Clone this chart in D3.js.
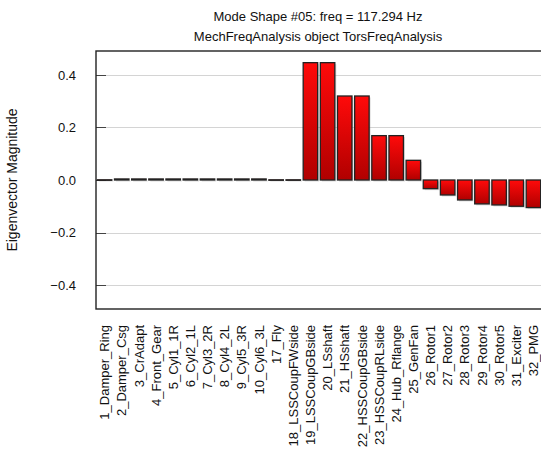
<!DOCTYPE html>
<html>
<head>
<meta charset="utf-8">
<script src="https://cdn.jsdelivr.net/npm/d3@7"></script>
<style>
  html, body { margin: 0; padding: 0; background: #fff; }
  svg { display: block; }
  text { font-family: "Liberation Sans", Arial, sans-serif; fill: #111; }
</style>
</head>
<body>
<svg id="chart" width="541" height="471"></svg>
<script>
const titleLines = ["Mode Shape #05: freq = 117.294 Hz", "MechFreqAnalysis object TorsFreqAnalysis"];
const yLabel = "Eigenvector Magnitude";
const categories = ["1_Damper_Ring","2_Damper_Csg","3_CrAdapt","4_Front_Gear","5_Cyl1_1R","6_Cyl2_1L",
  "7_Cyl3_2R","8_Cyl4_2L","9_Cyl5_3R","10_Cyl6_3L","17_Fly","18_LSSCoupFWside","19_LSSCoupGBside",
  "20_LSshaft","21_HSshaft","22_HSSCoupGBside","23_HSSCoupRLside","24_Hub_Rflange","25_GenFan",
  "26_Rotor1","27_Rotor2","28_Rotor3","29_Rotor4","30_Rotor5","31_Exciter","32_PMG"];
const values = [0.0008,0.004,0.004,0.004,0.004,0.004,0.004,0.004,0.004,0.004,0.0008,0.0008,0.447,
  0.447,0.32,0.32,0.169,0.169,0.075,-0.033,-0.057,-0.076,-0.091,-0.095,-0.1,-0.105];
const yTicks = [-0.4,-0.2,0.0,0.2,0.4];
const yLimits = [-0.4914, 0.4914];

const svg = d3.select("#chart");
const plot = {left: 96, top: 51, right: 542, bottom: 309};

const x = d3.scaleBand().domain(categories).range([plot.left, plot.right])
  .paddingInner(0.155).paddingOuter(0.0775);
const y = d3.scaleLinear().domain(yLimits).range([plot.bottom, plot.top]);

const defs = svg.append("defs");
const grad = defs.append("linearGradient").attr("id","barGrad")
  .attr("x1",0).attr("y1",0).attr("x2",0).attr("y2",1);
grad.append("stop").attr("offset","0%").attr("stop-color","#ff0a0a");
grad.append("stop").attr("offset","100%").attr("stop-color","#b00000");
defs.append("clipPath").attr("id","plotClip").append("rect")
  .attr("x",plot.left).attr("y",plot.top).attr("width",plot.right-plot.left).attr("height",plot.bottom-plot.top);

// gridlines
svg.append("g").selectAll("line").data(yTicks.filter(d => d !== 0)).join("line")
  .attr("x1",plot.left).attr("x2",plot.right)
  .attr("y1",d => Math.round(y(d))+0.5).attr("y2",d => Math.round(y(d))+0.5)
  .attr("stroke","#d4d4d4").attr("stroke-width",1.2);

// tick marks inside the box
svg.append("g").selectAll("line").data(yTicks).join("line")
  .attr("x1",plot.left).attr("x2",plot.left+10)
  .attr("y1",d => Math.round(y(d))+0.5).attr("y2",d => Math.round(y(d))+0.5)
  .attr("stroke","#444").attr("stroke-width",1);

// bars
const bars = svg.append("g").attr("clip-path","url(#plotClip)");
bars.selectAll("rect.shadow").data(values).join("rect").attr("class","shadow")
  .attr("x",(d,i) => x(categories[i]) + 1.5)
  .attr("y",d => Math.min(y(d), y(0)) + 1.5)
  .attr("width",x.bandwidth())
  .attr("height",d => Math.max(0.5, Math.abs(y(d) - y(0))))
  .attr("fill","#999").attr("opacity",0.35);
bars.selectAll("rect.bar").data(values).join("rect").attr("class","bar")
  .attr("x",(d,i) => x(categories[i]))
  .attr("y",d => Math.min(y(d), y(0)))
  .attr("width",x.bandwidth())
  .attr("height",d => Math.max(0.5, Math.abs(y(d) - y(0))))
  .attr("fill","url(#barGrad)")
  .attr("stroke","#222").attr("stroke-width",1.3);

// box
svg.append("rect").attr("x",plot.left).attr("y",plot.top)
  .attr("width",plot.right-plot.left).attr("height",plot.bottom-plot.top)
  .attr("fill","none").attr("stroke","#222").attr("stroke-width",1.4);

// y tick labels
const fmt = d3.format(".1f");
svg.append("g").selectAll("text").data(yTicks).join("text")
  .attr("x",76).attr("y",d => y(d)).attr("dy","0.35em")
  .attr("text-anchor","end").attr("font-size",13)
  .text(d => fmt(d).replace("-","\u2212"));

// x labels
svg.append("g").selectAll("text").data(categories).join("text")
  .attr("transform",d => `translate(${x(d)+x.bandwidth()/2},325) rotate(-90)`)
  .attr("text-anchor","end").attr("dy","0.36em").attr("font-size",13)
  .text(d => d);

// y axis label
svg.append("text").attr("transform",`translate(17,${(plot.top+plot.bottom)/2}) rotate(-90)`)
  .attr("text-anchor","middle").attr("font-size",14).text(yLabel);

// title
svg.append("g").selectAll("text").data(titleLines).join("text")
  .attr("x",318).attr("y",(d,i) => 21 + i*20)
  .attr("text-anchor","middle").attr("font-size",13)
  .text(d => d);
</script>
</body>
</html>
